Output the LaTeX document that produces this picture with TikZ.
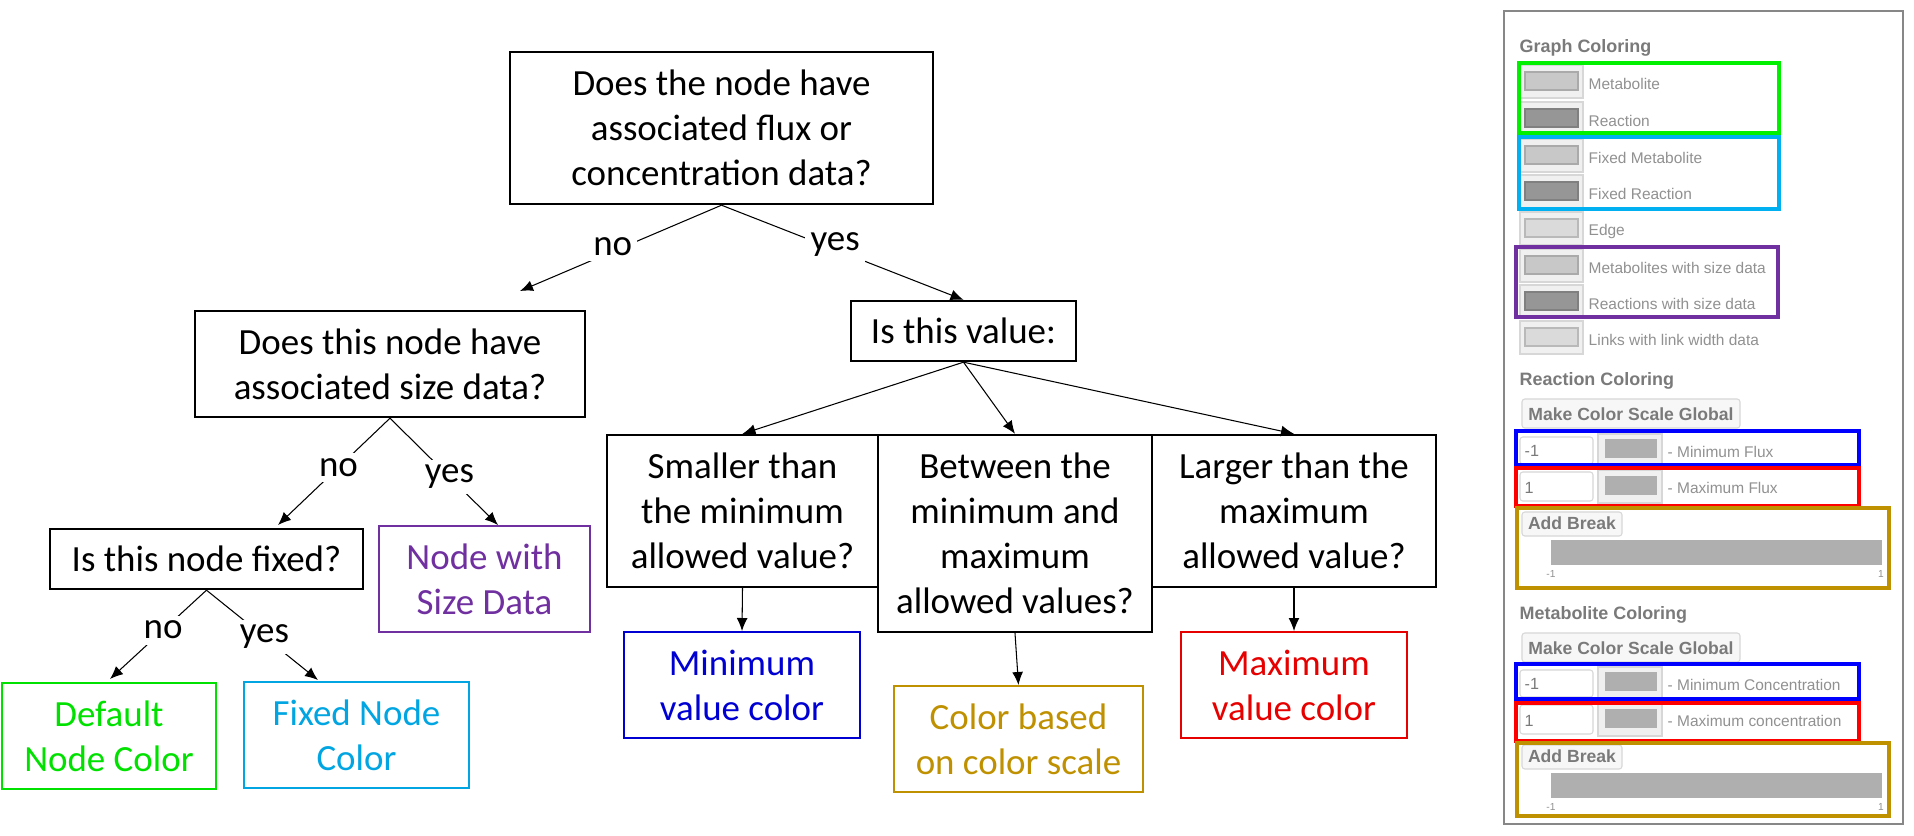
\documentclass[tikz,border=0pt]{standalone}
\usepackage{fontspec}
\setmainfont{Carlito}
\newfontfamily\uifont{Liberation Sans}
\usetikzlibrary{arrows.meta}

\definecolor{dfltgreen}{RGB}{0,225,0}
\definecolor{fixcyan}{RGB}{0,165,225}
\definecolor{sizepurple}{RGB}{112,48,160}
\definecolor{minblue}{RGB}{0,0,210}
\definecolor{scalegold}{RGB}{191,144,0}
\definecolor{maxred}{RGB}{230,0,0}
\definecolor{hlgreen}{RGB}{0,240,0}
\definecolor{hlcyan}{RGB}{0,176,240}
\definecolor{hlblue}{RGB}{0,0,255}
\definecolor{hlred}{RGB}{255,0,0}
\definecolor{uigray}{RGB}{145,145,145}
\definecolor{headgray}{RGB}{122,122,122}
\definecolor{edgegray}{RGB}{215,215,215}
\definecolor{btngray}{RGB}{240,240,240}
\definecolor{swlight}{RGB}{200,200,200}
\definecolor{swdark}{RGB}{150,150,150}
\definecolor{swpale}{RGB}{218,218,218}
\definecolor{swmid}{RGB}{175,175,175}

\newcommand{\treefont}{\fontsize{10.5}{12.8}\selectfont}

\begin{document}
\begin{tikzpicture}[x=0.01cm, y=-0.01cm,
  every node/.style={inner sep=0pt, align=center},
  qbox/.style={draw, line width=0.65pt, font=\treefont},
  cbox/.style={draw=#1, text=#1, line width=0.55pt, font=\treefont},
  link/.style={line width=0.3pt, -{Latex[length=3.7pt,width=3.1pt]}},
  lbl/.style={fill=white, inner sep=1.5pt, font=\treefont},
  hilite/.style={draw=#1, line width=1.1pt},
  swbtn/.style={fill=btngray, draw=edgegray, line width=0.3pt},
  uibox/.style={fill=white!97!black, draw=edgegray, line width=0.3pt, rounded corners=0.8pt},
  inbox/.style={fill=white, draw=edgegray, line width=0.3pt, rounded corners=0.8pt},
  uitxt/.style={anchor=west, text=uigray, font=\uifont\fontsize{4.4}{5}\selectfont},
  uinum/.style={anchor=west, text=headgray, font=\uifont\fontsize{4.6}{5}\selectfont},
  uitick/.style={text=uigray, font=\uifont\fontsize{2.9}{3}\selectfont},
  uihead/.style={anchor=west, text=headgray, font=\uifont\bfseries\fontsize{5.1}{6}\selectfont},
  uibtn/.style={text=headgray, font=\uifont\bfseries\fontsize{5}{6}\selectfont}]

\fill[white] (0,0) rectangle (1914,835);
\useasboundingbox (0,0) rectangle (1914,835);

% decision tree
\node[qbox, minimum width=4.23cm, minimum height=1.52cm] (root) at (721.5,128) {Does the node have\\associated flux or\\concentration data?};
\node[qbox, minimum width=3.9cm, minimum height=1.06cm] (sizeq) at (390,364) {Does this node have\\associated size data?};
\node[qbox, minimum width=2.25cm, minimum height=0.6cm] (valq) at (963.5,331) {Is this value:};
\node[qbox, minimum width=3.13cm, minimum height=0.6cm] (fixq) at (206.5,559) {Is this node fixed?};
\node[cbox=sizepurple, minimum width=2.11cm, minimum height=1.06cm] (sizecol) at (484.5,579) {Node with\\Size Data};
\node[cbox=dfltgreen, minimum width=2.14cm, minimum height=1.06cm] (dfltcol) at (109,736) {Default\\Node Color};
\node[cbox=fixcyan, minimum width=2.25cm, minimum height=1.06cm] (fixcol) at (356.5,735) {Fixed Node\\Color};

\node[qbox, minimum width=2.71cm, minimum height=1.52cm] (lowq) at (742.5,511) {Smaller than\\the minimum\\allowed value?};
\node[qbox, minimum width=2.74cm, minimum height=1.97cm] (midq) at (1015,533.5) {Between the\\minimum and\\maximum\\allowed values?};
\node[qbox, minimum width=2.84cm, minimum height=1.52cm] (highq) at (1294,511) {Larger than the\\maximum\\allowed value?};
\node[cbox=minblue, minimum width=2.36cm, minimum height=1.06cm] (mincol) at (742,685) {Minimum\\value color};
\node[cbox=scalegold, minimum width=2.49cm, minimum height=1.06cm] (scalecol) at (1018.5,739) {Color based\\on color scale};
\node[cbox=maxred, minimum width=2.26cm, minimum height=1.06cm] (maxcol) at (1294,685) {Maximum\\value color};

\coordinate (tipno1) at (520,291);
\coordinate (tipno2) at (278,525);
\coordinate (tipyes2) at (498,525);
\coordinate (tipno3) at (110,679);
\coordinate (tipyes3) at (318,680);

\draw[link] (root.south) -- node[lbl, pos=0.54, yshift=1.5pt] {no} (tipno1);
\draw[link] (root.south) -- node[lbl, pos=0.47, yshift=1.5pt] {yes} (valq.north);
\draw[link] (sizeq.south) -- node[lbl, pos=0.46] {no} (tipno2);
\draw[link] (sizeq.south) -- node[lbl, pos=0.55] {yes} (tipyes2);
\draw[link] (fixq.south) -- node[lbl, pos=0.45] {no} (tipno3);
\draw[link] (fixq.south) -- node[lbl, pos=0.52] {yes} (tipyes3);

\draw[link] (valq.south) -- (lowq.north);
\draw[link] (valq.south) -- (midq.north);
\draw[link] (valq.south) -- (highq.north);
\draw[link] (lowq.south) -- (mincol.north);
\draw[link] (midq.south) -- (scalecol.north);
\draw[link] (highq.south) -- (maxcol.north);

% settings panel
\draw[draw=swdark!90!black, line width=0.6pt] (1504,11) rectangle (1903,824);
\node[uihead] at (1519,48) {Graph Coloring};

\draw[swbtn] (1520,65) rectangle (1583,98);
\draw[fill=swlight, draw=swlight!85!black, line width=0.3pt] (1525,72) rectangle (1578,90);
\node[uitxt] at (1588,84) {Metabolite};
\draw[swbtn] (1520,102) rectangle (1583,135);
\draw[fill=swdark, draw=swdark!85!black, line width=0.3pt] (1525,109) rectangle (1578,127);
\node[uitxt] at (1588,121) {Reaction};
\draw[swbtn] (1520,139) rectangle (1583,172);
\draw[fill=swlight, draw=swlight!85!black, line width=0.3pt] (1525,146) rectangle (1578,164);
\node[uitxt] at (1588,158) {Fixed Metabolite};
\draw[swbtn] (1520,175) rectangle (1583,208);
\draw[fill=swdark, draw=swdark!85!black, line width=0.3pt] (1525,182) rectangle (1578,200);
\node[uitxt] at (1588,194) {Fixed Reaction};
\draw[swbtn] (1520,212) rectangle (1583,245);
\draw[fill=swpale, draw=swpale!85!black, line width=0.3pt] (1525,219) rectangle (1578,237);
\node[uitxt] at (1588,231) {Edge};
\draw[swbtn] (1520,249) rectangle (1583,282);
\draw[fill=swlight, draw=swlight!85!black, line width=0.3pt] (1525,256) rectangle (1578,274);
\node[uitxt] at (1588,268) {Metabolites with size data};
\draw[swbtn] (1520,285) rectangle (1583,318);
\draw[fill=swdark, draw=swdark!85!black, line width=0.3pt] (1525,292) rectangle (1578,310);
\node[uitxt] at (1588,304) {Reactions with size data};
\draw[swbtn] (1520,321) rectangle (1583,354);
\draw[fill=swpale, draw=swpale!85!black, line width=0.3pt] (1525,328) rectangle (1578,346);
\node[uitxt] at (1588,340) {Links with link width data};

\draw[hilite=hlgreen] (1519,63) rectangle (1779,133);
\draw[hilite=hlcyan] (1519,137) rectangle (1779,209);
\draw[hilite=sizepurple] (1516,247) rectangle (1778,317);

% reaction coloring
\node[uihead] at (1519,381) {Reaction Coloring};
\draw[uibox] (1522,399) rectangle (1740,428);
\node[uibtn] at (1631,414) {Make Color Scale Global};
\draw[inbox] (1520,437) rectangle (1593,464);
\node[uinum] at (1524,451) {-1};
\draw[swbtn] (1598,434) rectangle (1662,465);
\fill[swmid] (1605,439) rectangle (1657,458);
\node[uitxt] at (1667,452) {- Minimum Flux};
\draw[inbox] (1520,472) rectangle (1593,501);
\node[uinum] at (1524,488) {1};
\draw[swbtn] (1598,470) rectangle (1662,503);
\fill[swmid] (1605,476) rectangle (1657,495);
\node[uitxt] at (1667,488) {- Maximum Flux};
\draw[uibox] (1522,512) rectangle (1622,536);
\node[uibtn] at (1572,523) {Add Break};
\fill[swmid] (1551,540) rectangle (1882,565);
\node[uitick] at (1551,574) {-1};
\node[uitick] at (1881,574) {1};
\draw[hilite=hlblue] (1516,431) rectangle (1859,465);
\draw[hilite=hlred] (1516,468) rectangle (1859,506);
\draw[hilite=scalegold] (1517,508) rectangle (1889,588);

% metabolite coloring
\node[uihead] at (1519,615) {Metabolite Coloring};
\draw[uibox] (1522,633) rectangle (1740,662);
\node[uibtn] at (1631,648) {Make Color Scale Global};
\draw[inbox] (1520,670) rectangle (1593,697);
\node[uinum] at (1524,684) {-1};
\draw[swbtn] (1598,667) rectangle (1662,698);
\fill[swmid] (1605,672) rectangle (1657,691);
\node[uitxt] at (1667,685) {- Minimum Concentration};
\draw[inbox] (1520,705) rectangle (1593,734);
\node[uinum] at (1524,721) {1};
\draw[swbtn] (1598,703) rectangle (1662,736);
\fill[swmid] (1605,709) rectangle (1657,728);
\node[uitxt] at (1667,721) {- Maximum concentration};
\draw[uibox] (1522,745) rectangle (1622,769);
\node[uibtn] at (1572,756) {Add Break};
\fill[swmid] (1551,773) rectangle (1882,798);
\node[uitick] at (1551,807) {-1};
\node[uitick] at (1881,807) {1};
\draw[hilite=hlblue] (1516,664) rectangle (1859,699);
\draw[hilite=hlred] (1516,703) rectangle (1859,741);
\draw[hilite=scalegold] (1517,743) rectangle (1889,816);

\end{tikzpicture}
\end{document}
